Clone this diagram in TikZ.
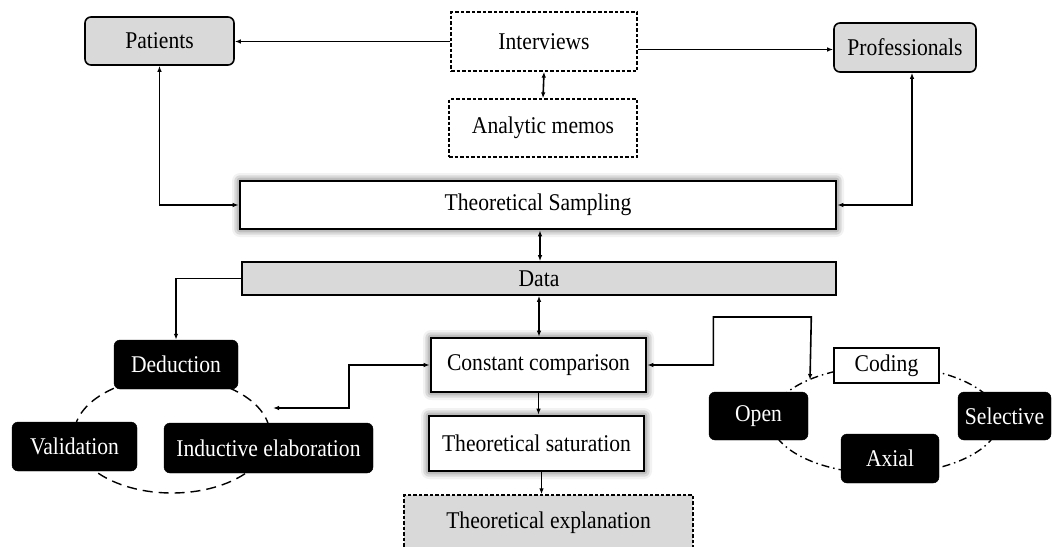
\documentclass[tikz,border=0pt]{standalone}
\usepackage{fontspec}
\setmainfont[FakeStretch=0.9]{Liberation Serif}
\usetikzlibrary{arrows.meta,shadows.blur,calc}
\definecolor{boxgray}{HTML}{D9D9D9}
\tikzset{
  lbl/.style={font=\fontsize{24}{27}\selectfont, inner sep=0pt, align=center},
  graybox/.style={lbl, draw, fill=boxgray, line width=1.6pt, rounded corners=6pt},
  dashbox/.style={lbl, draw, fill=white, line width=1.3pt, dash pattern=on 3.5pt off 2pt},
  glowbox/.style={lbl, draw, fill=white, line width=2.6pt,
    blur shadow={shadow xshift=0pt, shadow yshift=0pt, shadow blur radius=8pt, shadow opacity=80, shadow scale=1.0}},
  databox/.style={lbl, draw, fill=boxgray, line width=1.6pt},
  blackbox/.style={lbl, draw=black, fill=black, text=white, rounded corners=6pt},
  plainbox/.style={lbl, draw, fill=white, line width=1.4pt},
  conn/.style={line width=1.6pt, -{Latex[length=6pt,width=4.5pt]}},
  biconn/.style={line width=1.6pt, {Latex[length=6pt,width=4.5pt]}-{Latex[length=6pt,width=4.5pt]}},
}
\begin{document}
\begin{tikzpicture}[x=1pt,y=-1pt]
\useasboundingbox (0,0) rectangle (1056,546);
\clip (0,0) rectangle (1056,546);

% cycles drawn first so the boxes sit on top of them
\draw[line width=1.4pt, dash pattern=on 10pt off 6pt] (172,435) ellipse [x radius=98, y radius=58];
\draw[line width=1.4pt, dash pattern=on 8pt off 4pt on 1.5pt off 4pt] (885,420) ellipse [x radius=114, y radius=54];

% top row
\node[graybox, minimum width=149pt, minimum height=48pt] (patients) at (159.5,41) {Patients};
\node[dashbox, minimum width=186pt, minimum height=59pt] (interviews) at (544,41.5) {Interviews};
\node[dashbox, minimum width=188pt, minimum height=58pt] (memos) at (543,128) {Analytic memos};
\node[graybox, minimum width=142pt, minimum height=49pt] (professionals) at (905,47.5) {Professionals};

% sampling and data
\node[glowbox, minimum width=596pt, minimum height=48pt] (sampling) at (538,205) {Theoretical Sampling};
\node[databox, minimum width=594pt, minimum height=33pt] (data) at (539,278.5) {Data};

% deduction cycle
\node[blackbox, minimum width=124pt, minimum height=49pt] (deduction) at (176,364.5) {Deduction};
\node[blackbox, minimum width=125pt, minimum height=49pt] (validation) at (74.5,446.5) {Validation};
\node[blackbox, minimum width=209pt, minimum height=50pt] (inductive) at (268.5,448) {Inductive elaboration};

% central column
\node[glowbox, minimum width=215pt, minimum height=54pt] (comparison) at (538.5,365) {Constant comparison};
\node[glowbox, minimum width=215pt, minimum height=55pt] (saturation) at (536.5,443.5) {Theoretical saturation};
\node[lbl, draw, fill=boxgray, line width=1.3pt, dash pattern=on 3.5pt off 2pt,
      minimum width=289pt, minimum height=56pt] (explanation) at (548.5,523) {Theoretical explanation};

% coding cycle
\node[plainbox, minimum width=105pt, minimum height=35pt] (coding) at (886.5,365.5) {Coding};
\node[blackbox, minimum width=99pt, minimum height=48pt] (open) at (758.5,416) {Open};
\node[blackbox, minimum width=98pt, minimum height=49pt] (axial) at (890,458.5) {Axial};
\node[blackbox, minimum width=93pt, minimum height=48pt] (selective) at (1004.5,416) {Selective};

% free ends of connectors that stop on the cycles
\coordinate (inducTip) at (273,408);
\coordinate (codeTip) at (810,380);

% connectors
\draw[conn] (interviews.west) -- (interviews.west -| patients.east);
\draw[conn] ([yshift=-8pt]interviews.east) -- ([yshift=-8pt]interviews.east -| professionals.west);
\draw[biconn] (interviews.south) -- (memos.north);
\draw[biconn] (patients.south) |- (sampling.west);
\draw[biconn] ([xshift=7pt]professionals.south) |- (sampling.east);
\draw[biconn] ([xshift=2pt]sampling.south) -- ([xshift=2pt]sampling.south |- data.north);
\draw[biconn] (data.south) -- (data.south |- comparison.north);
\draw[conn] (data.west) -| (deduction.north);
\draw[biconn] (comparison.west) -- ++(-81,0) |- (inducTip);
\draw[biconn] (comparison.east) -- ++(66,0) |- ++(98,-48) -- (codeTip);
\draw[conn] (comparison.south) -- (comparison.south |- saturation.north);
\draw[conn] ([xshift=5pt]saturation.south) -- ([xshift=5pt]saturation.south |- explanation.north);
\end{tikzpicture}
\end{document}
